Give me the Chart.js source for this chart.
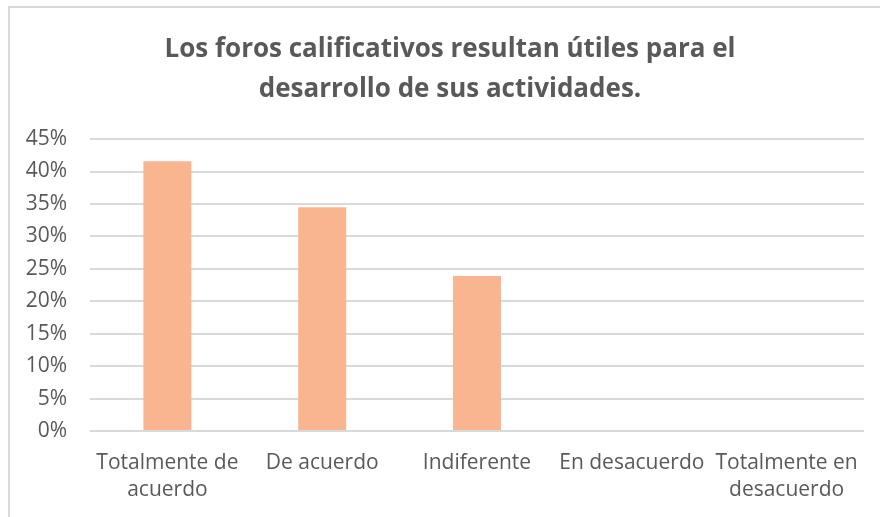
<!DOCTYPE html>
<html>
<head>
<meta charset="utf-8">
<script src="https://cdn.jsdelivr.net/npm/chart.js@4"></script>
<style>
  html, body { margin: 0; padding: 0; background: #ffffff; }
  #wrap { width: 880px; height: 517px; position: relative; }
</style>
</head>
<body>
<div id="wrap"><canvas id="c" width="880" height="517"></canvas></div>
<script>
const titleLines = ["Los foros calificativos resultan útiles para el", "desarrollo de sus actividades."];
const categories = [["Totalmente de", "acuerdo"], ["De acuerdo"], ["Indiferente"], ["En desacuerdo"], ["Totalmente en", "desacuerdo"]];
const values = [41.6, 34.5, 23.9, 0, 0];
const yTicks = [0, 5, 10, 15, 20, 25, 30, 35, 40, 45];

const textColor = "#595959";
const gridColor = "#d9d9d9";
const barColor = "#F8B590";
const fontFamily = "'Open Sans', 'Noto Sans', sans-serif";

const frame = {
  id: 'frame',
  beforeDraw(chart) {
    const ctx = chart.ctx;
    ctx.save();
    ctx.fillStyle = '#ffffff';
    ctx.fillRect(0, 0, chart.width, chart.height);
    ctx.strokeStyle = gridColor;
    ctx.lineWidth = 2;
    ctx.beginPath();
    ctx.moveTo(9, chart.height);
    ctx.lineTo(9, 7);
    ctx.lineTo(chart.width, 7);
    ctx.stroke();
    ctx.restore();
  }
};

// center the title over the region the reference uses
const titleShift = {
  id: 'titleShift',
  afterLayout(chart) {
    if (chart.titleBlock) {
      chart.titleBlock.left = 36;
      chart.titleBlock.right = 864;
    }
  }
};

new Chart(document.getElementById('c'), {
  type: 'bar',
  data: {
    labels: categories,
    datasets: [{
      data: values,
      backgroundColor: barColor,
      borderWidth: 0,
      barPercentage: 0.31,
      categoryPercentage: 1.0
    }]
  },
  options: {
    responsive: false,
    animation: false,
    devicePixelRatio: 1,
    layout: { padding: { left: 0, right: 16, top: 30, bottom: 0 } },
    plugins: {
      legend: { display: false },
      tooltip: { enabled: false },
      title: {
        display: true,
        text: titleLines,
        color: textColor,
        font: { family: fontFamily, size: 26, weight: 'bold', lineHeight: 1.54 },
        padding: { top: 0, bottom: 29 }
      }
    },
    scales: {
      x: {
        afterFit(scale) { scale.height = 86; },
        grid: { display: false, drawTicks: false },
        border: { display: false },
        ticks: {
          color: textColor,
          font: { family: fontFamily, size: 21, lineHeight: 1.29 },
          padding: 18,
          maxRotation: 0,
          autoSkip: false
        }
      },
      y: {
        min: 0,
        max: 45,
        afterFit(scale) { scale.width = 90; },
        afterBuildTicks(scale) { scale.ticks = yTicks.map(v => ({ value: v })); },
        grid: { color: gridColor, lineWidth: 2, drawTicks: false },
        border: { display: false },
        ticks: {
          color: textColor,
          font: { family: fontFamily, size: 21 },
          padding: 23,
          callback: v => v + '%'
        }
      }
    }
  },
  plugins: [frame, titleShift]
});
</script>
</body>
</html>
